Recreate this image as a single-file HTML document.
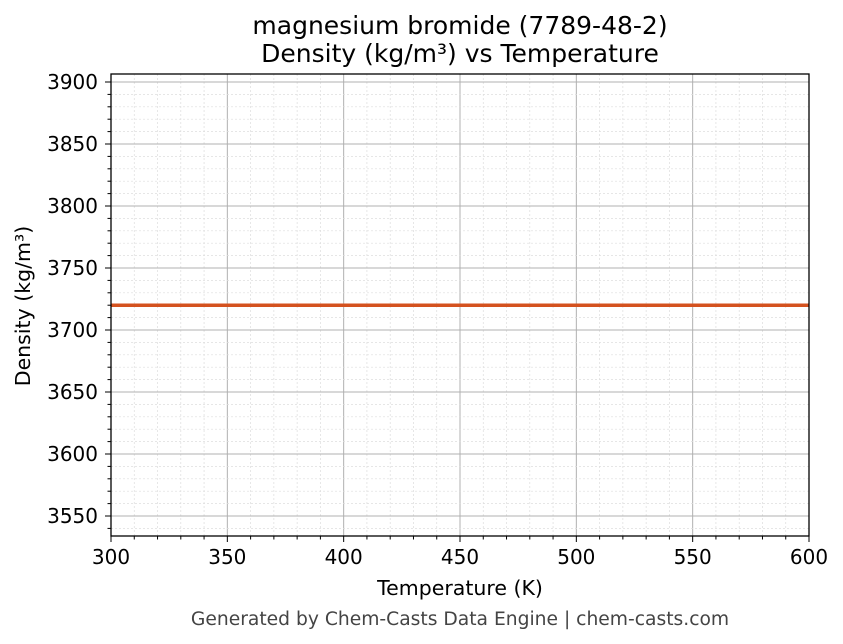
<!DOCTYPE html>
<html><head><meta charset="utf-8"><style>body{margin:0;background:#fff}svg{display:block}</style></head>
<body>
<svg id="s" width="843" height="644" xmlns="http://www.w3.org/2000/svg" font-family="DejaVu Sans, sans-serif">
<rect width="843" height="644" fill="#fff"/>
<g id="g"></g>
<text x="460" y="34" font-size="25" text-anchor="middle">magnesium bromide (7789-48-2)</text>
<text x="460" y="62" font-size="25" text-anchor="middle">Density (kg/m³) vs Temperature</text>
<text x="460" y="595" font-size="20.5" text-anchor="middle">Temperature (K)</text>
<text transform="translate(30,306) rotate(-90)" font-size="20.5" text-anchor="middle">Density (kg/m³)</text>
<text x="460" y="625" font-size="18.7" fill="#444" text-anchor="middle">Generated by Chem-Casts Data Engine | chem-casts.com</text>
</svg>
<script>
var g=document.getElementById('g'),h='';
var L=111,R=809,T=74,B=536;
function X(v){return L+(v-300)*(R-L)/300}
function Y(v){return 82+(3900-v)*1.24}
for(var v=300;v<=600;v+=10){var x=X(v);var maj=v%50==0;
 h+='<line x1="'+x+'" y1="'+T+'" x2="'+x+'" y2="'+B+'" stroke="'+(maj?'#b0b0b0':'#ddd')+'" stroke-width="'+(maj?1:0.7)+'" '+(maj?'':'stroke-dasharray="2,2"')+'/>';
 h+='<line x1="'+x+'" y1="'+B+'" x2="'+x+'" y2="'+(B+(maj?6:3.5))+'" stroke="#000" stroke-width="1"/>';
 if(maj)h+='<text x="'+x+'" y="'+(B+28)+'" font-size="20" text-anchor="middle">'+v+'</text>';}
for(var v=3540;v<=3900;v+=10){var y=Y(v);var maj=v%50==0;
 h+='<line x1="'+L+'" y1="'+y+'" x2="'+R+'" y2="'+y+'" stroke="'+(maj?'#b0b0b0':'#ddd')+'" stroke-width="'+(maj?1:0.7)+'" '+(maj?'':'stroke-dasharray="2,2"')+'/>';
 h+='<line x1="'+L+'" y1="'+y+'" x2="'+(L-(maj?6:3.5))+'" y2="'+y+'" stroke="#000" stroke-width="1"/>';
 if(maj)h+='<text x="'+(L-13)+'" y="'+(y+7)+'" font-size="20" text-anchor="end">'+v+'</text>';}
h+='<line x1="'+L+'" y1="'+Y(3720)+'" x2="'+R+'" y2="'+Y(3720)+'" stroke="#d4521f" stroke-width="3.5"/>';
h+='<rect x="'+L+'" y="'+T+'" width="'+(R-L)+'" height="'+(B-T)+'" fill="none" stroke="#000" stroke-width="1.3"/>';
g.innerHTML=h;
</script>
</body></html>
